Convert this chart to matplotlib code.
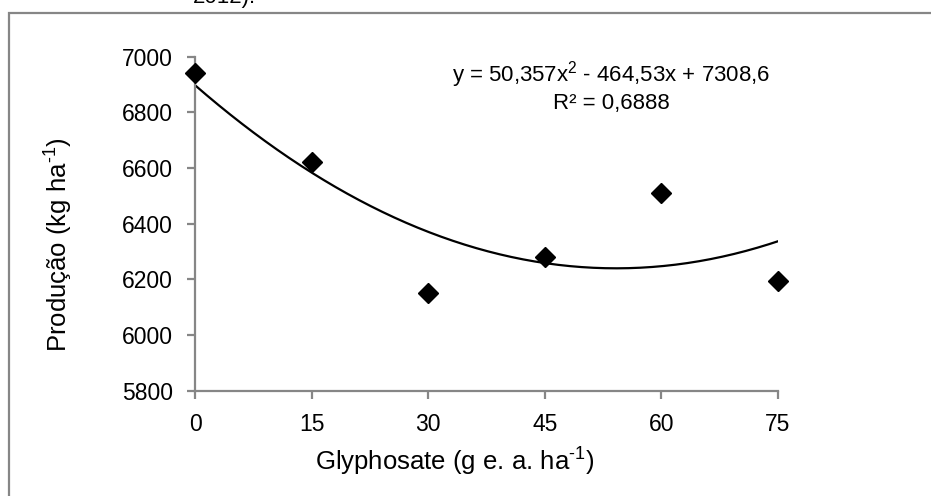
import numpy as np
import matplotlib
matplotlib.use("Agg")
import matplotlib.pyplot as plt
from matplotlib.patches import Rectangle

plt.rcParams['font.family'] = ['Liberation Sans', 'DejaVu Sans']
plt.rcParams['mathtext.fontset'] = 'custom'
plt.rcParams['mathtext.rm'] = 'Liberation Sans'
plt.rcParams['mathtext.it'] = 'Liberation Sans'

# Data
doses = [0, 15, 30, 45, 60, 75]
producao = [6940, 6620, 6150, 6280, 6510, 6195]
xticks = [0, 15, 30, 45, 60, 75]
yticks = [5800, 6000, 6200, 6400, 6600, 6800, 7000]
equation = "y = 50,357x$^{2}$ - 464,53x + 7308,6"
r2_text = "R² = 0,6888"
xlabel = "Glyphosate (g e. a. ha$^{\\mathregular{\u2010}1}$)"
ylabel = "Produção (kg ha$^{\\mathregular{\u2010}1}$)"
caption_top = "2012)."

W, H = 931, 496
fig = plt.figure(figsize=(W / 100, H / 100), dpi=100)

# outer frame
fig.patches.append(Rectangle((9 / W, -0.1), 1.2, (H - 13) / H + 0.1,
                             transform=fig.transFigure, fill=False,
                             edgecolor='#868686', linewidth=1.6))
fig.text(193 / W, 1 - 3 / H, caption_top, fontsize=16, va='baseline', ha='left')

ax = fig.add_axes([195 / W, 105.3 / H, (778 - 195) / W, (390.7 - 56.7) / H])

# polynomial trend line (Excel-style, fitted on point index 1..n)
idx = np.arange(1, len(doses) + 1)
coef = np.polyfit(idx, producao, 2)
xs = np.linspace(1, len(doses), 200)
xd = np.interp(xs, idx, doses)
ax.plot(xd, np.polyval(coef, xs), color='black', lw=1.6, zorder=2)

ax.plot(doses, producao, linestyle='none', marker='D', markersize=10.5,
        color='black', zorder=3, clip_on=False)

ax.set_xlim(0, 75)
ax.set_ylim(5800, 7000)
ax.set_xticks(xticks)
ax.set_yticks(yticks)
for s in ['top', 'right']:
    ax.spines[s].set_visible(False)
for s in ['left', 'bottom']:
    ax.spines[s].set_color('#868686')
    ax.spines[s].set_linewidth(1.6)
ax.tick_params(axis='both', direction='out', length=6, width=1.6,
               color='#868686', labelsize=16.5, pad=10)

ax.set_xlabel(xlabel, fontsize=18.5)
ax.set_ylabel(ylabel, fontsize=18.5)
ax.xaxis.set_label_coords((455 - 195) / (778 - 195), -(462 - 390.7) / (390.7 - 56.7))
ax.yaxis.set_label_coords(-(195 - 59) / (778 - 195), (390.7 - 245) / (390.7 - 56.7))
ax.xaxis.label.set_va('center')
ax.yaxis.label.set_va('center')

fig.text(611 / W, 1 - 75 / H, equation, fontsize=16, ha='center', va='center')
fig.text(611 / W, 1 - 103 / H, r2_text, fontsize=16, ha='center', va='center')

fig.savefig('out.png', dpi=100)
